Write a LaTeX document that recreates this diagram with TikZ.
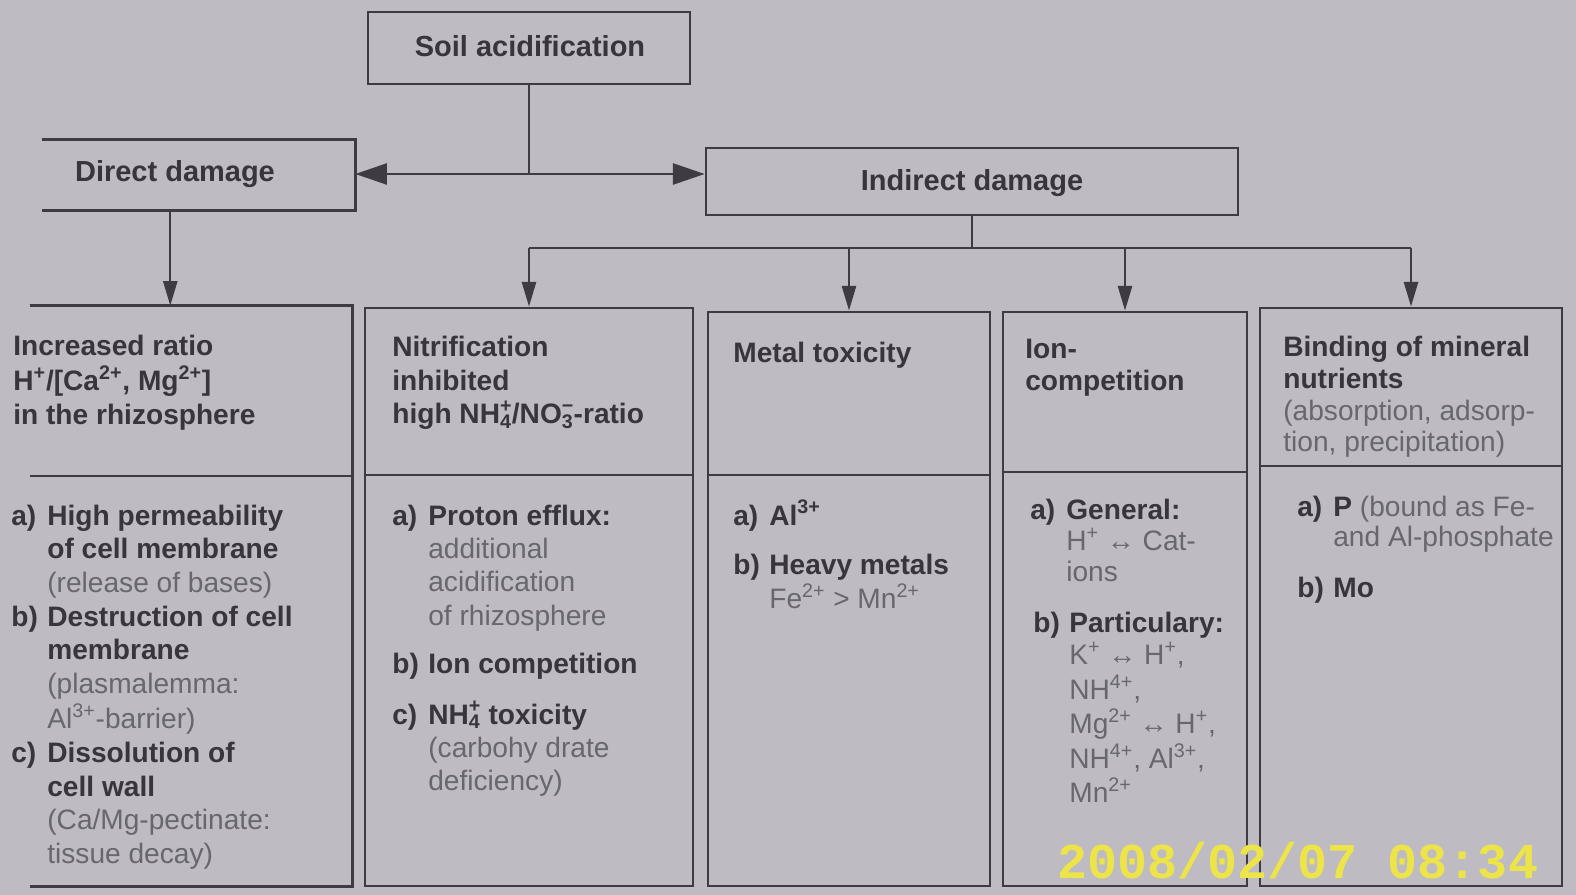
\documentclass[tikz,border=0pt]{standalone}
\usepackage{fontspec}
\setmainfont{Liberation Sans}
\newfontfamily\stampfont{Liberation Mono}
\usetikzlibrary{arrows.meta,fit,calc}
\definecolor{bgc}{RGB}{190,187,194}
\definecolor{linec}{RGB}{62,60,66}
\definecolor{hdc}{RGB}{56,54,60}
\definecolor{ltc}{RGB}{104,102,110}
\definecolor{stampc}{RGB}{236,228,72}
\newlength\labw
\setlength\labw{0.72cm}
\newcommand\lab[1]{\makebox[\labw][l]{#1}}
\newcommand\ind{\hspace*{\labw}}
\newcommand\sbsp[2]{\rlap{\textsuperscript{#2}}\textsubscript{#1}}
\newcommand\lt[1]{{\mdseries\color{ltc}#1}}
\newcommand\ml[1]{\begin{tabular}[t]{@{}l@{}}#1\end{tabular}}
\begin{document}
\begin{tikzpicture}[x=0.02cm,y=-0.02cm,
  box/.style={draw=linec, line width=1.6pt, inner sep=0pt},
  boxline/.style={draw=linec, line width=1.6pt},
  conn/.style={draw=linec, line width=1.3pt},
  arr/.style={conn, -{Triangle[length=14pt,width=8pt]}},
  harr/.style={conn, -{Triangle[length=18pt,width=12pt]}},
  tx/.style={anchor=base west, inner sep=0pt, text=hdc,
    font=\fontsize{16}{19}\selectfont\bfseries},
  ttl/.style={text=hdc, inner sep=0pt, font=\fontsize{16.5}{19}\selectfont\bfseries}]
\fill[bgc] (0,0) rectangle (1576,895);
\clip (0,0) rectangle (1576,895);

% top level
\node[box, fit={(368,12) (690,84)}] (soil) {};
\node[ttl] (soilt) at (530,46) {Soil acidification};
\node[inner sep=0pt, fit={(42,140) (355,210)}] (direct) {};
\draw[boxline] (direct.north west) -- (direct.north east) -- (direct.south east) -- (direct.south west);
\node[ttl] (directt) at (175,174) {Direct damage};
\node[box, fit={(706,148) (1238,215)}] (indirect) {};
\node[ttl] (indirectt) at (972,183) {Indirect damage};

% columns
\node[inner sep=0pt, fit={(30,306) (352,886)}] (c1) {};
\draw[boxline] (c1.north west) -- (c1.north east) -- (c1.south east) -- (c1.south west);
\node[box, fit={(365,308) (693,886)}] (c2) {};
\node[box, fit={(708,312) (990,886)}] (c3) {};
\node[box, fit={(1003,312) (1247,886)}] (c4) {};
\node[box, fit={(1260,308) (1562,886)}] (c5) {};
\draw[boxline] (c1.west |- 0,476) -- (c1.east |- 0,476);
\draw[boxline] (c2.west |- 0,475) -- (c2.east |- 0,475);
\draw[boxline] (c3.west |- 0,475) -- (c3.east |- 0,475);
\draw[boxline] (c4.west |- 0,472) -- (c4.east |- 0,472);
\draw[boxline] (c5.west |- 0,466) -- (c5.east |- 0,466);

% connectors
\coordinate (j1) at (soil.south |- 0,174);
\draw[conn] (soil.south) -- (j1);
\draw[harr] (j1) -- (direct.east |- j1);
\draw[harr] (j1) -- (indirect.west |- j1);
\coordinate (d1) at ($(direct.south west)!0.41!(direct.south east)$);
\draw[arr] (d1) -- (c1.north -| d1);
\coordinate (j2) at (indirect.south |- 0,248);
\draw[conn] (indirect.south) -- (j2);
\draw[conn] (c2.north |- j2) -- (c5.north |- j2);
\draw[arr] (c2.north |- j2) -- (c2.north);
\draw[arr] (c3.north |- j2) -- (c3.north);
\draw[arr] (c4.north |- j2) -- (c4.north);
\draw[arr] (c5.north |- j2) -- (c5.north);

% column 1
\node[tx] (c1h) at (13,356) {\ml{Increased ratio\\H\textsuperscript{+}/[Ca\textsuperscript{2+}, Mg\textsuperscript{2+}]\\in the rhizosphere}};
\node[tx, font=\fontsize{16}{19.2}\selectfont\bfseries] (c1d) at (11,525) {\ml{\lab{a)}High permeability\\
\ind of cell membrane\\
\ind\lt{(release of bases)}\\
\lab{b)}Destruction of cell\\
\ind membrane\\
\ind\lt{(plasmalemma:}\\
\ind\lt{Al\textsuperscript{3+}-barrier)}\\
\lab{c)}Dissolution of\\
\ind cell wall\\
\ind\lt{(Ca/Mg-pectinate:}\\
\ind\lt{tissue decay)}}};

% column 2
\node[tx] (c2h) at (392,357) {\ml{Nitrification\\inhibited\\high NH\sbsp{4}{+}/NO\sbsp{3}{−}-ratio}};
\node[tx] (c2a) at (392,525) {\ml{\lab{a)}Proton efflux:\\
\ind\lt{additional}\\
\ind\lt{acidification}\\
\ind\lt{of rhizosphere}}};
\node[tx] (c2b) at (392,673) {\lab{b)}Ion competition};
\node[tx] (c2c) at (392,724) {\ml{\lab{c)}NH\sbsp{4}{+} toxicity\\
\ind\lt{(carbohy drate}\\
\ind\lt{deficiency)}}};

% column 3
\node[tx] (c3h) at (733,362) {Metal toxicity};
\node[tx] (c3a) at (733,525) {\lab{a)}Al\textsuperscript{3+}};
\node[tx] (c3b) at (733,574) {\ml{\lab{b)}Heavy metals\\
\ind\lt{Fe\textsuperscript{2+} > Mn\textsuperscript{2+}}}};

% column 4
\node[tx, font=\fontsize{16}{18.5}\selectfont\bfseries] (c4h) at (1025,358) {\ml{Ion-\\competition}};
\node[tx, font=\fontsize{16}{17.5}\selectfont\bfseries] (c4a) at (1030,519) {\ml{\lab{a)}General:\\
\ind\lt{H\textsuperscript{+} ↔ Cat-}\\
\ind\lt{ions}}};
\node[tx, font=\fontsize{16}{18.6}\selectfont\bfseries] (c4b) at (1033,632) {\ml{\lab{b)}Particulary:\\
\ind\lt{K\textsuperscript{+} ↔ H\textsuperscript{+},}\\
\ind\lt{NH\textsuperscript{4+},}\\
\ind\lt{Mg\textsuperscript{2+} ↔ H\textsuperscript{+},}\\
\ind\lt{NH\textsuperscript{4+}, Al\textsuperscript{3+},}\\
\ind\lt{Mn\textsuperscript{2+}}}};

% column 5
\node[tx, font=\fontsize{16}{18}\selectfont\bfseries] (c5h) at (1283,357) {\ml{Binding of mineral\\nutrients\\
\lt{(absorption, adsorp-}\\
\lt{tion, precipitation)}}};
\node[tx, font=\fontsize{16}{17.6}\selectfont\bfseries] (c5a) at (1297,516) {\ml{\lab{a)}P \lt{(bound as Fe-}\\
\ind\lt{and Al-phosphate}}};
\node[tx] (c5b) at (1297,597) {\lab{b)}Mo};

% camera stamp
\node[anchor=base west, inner sep=0pt, text=stampc, font=\stampfont\fontsize{28.5}{28.5}\selectfont\bfseries] (stamp) at (1057,878) {2008/02/07 08:34};
\end{tikzpicture}
\end{document}
